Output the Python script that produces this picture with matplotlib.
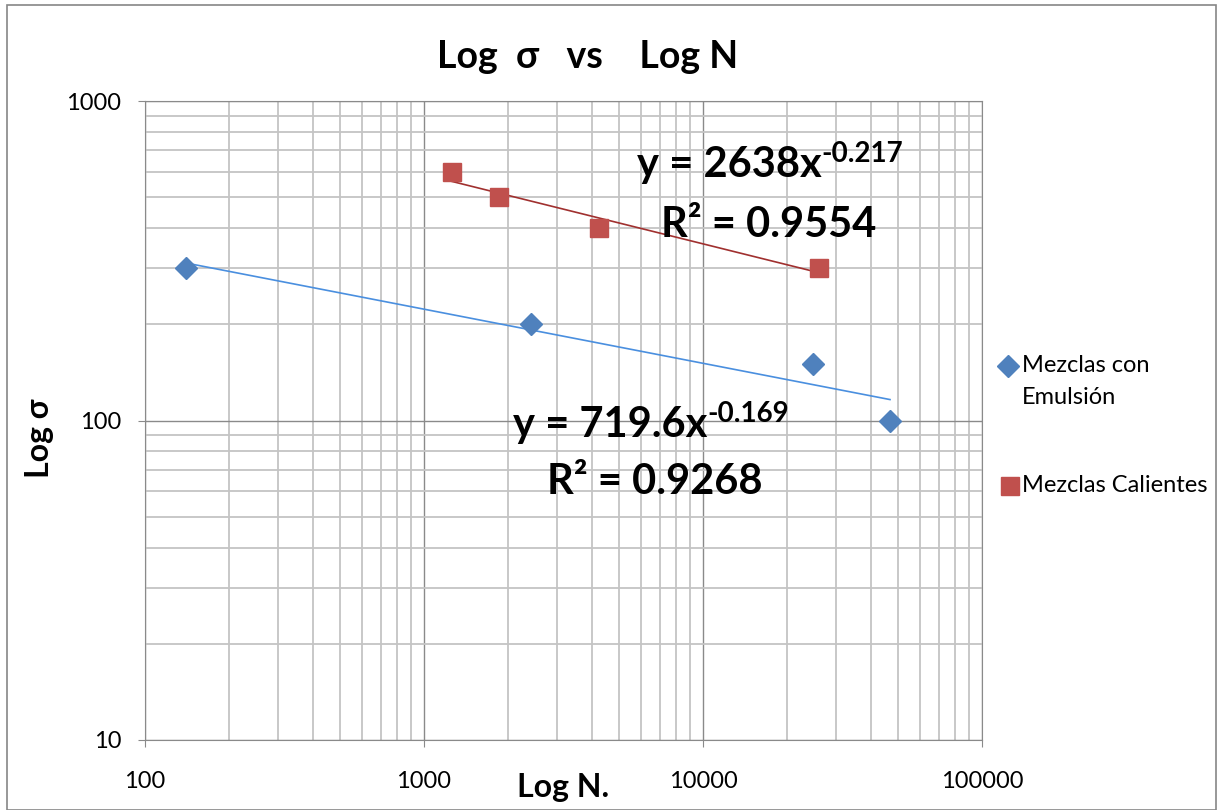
import numpy as np
import matplotlib
matplotlib.use("Agg")
import matplotlib.pyplot as plt
from matplotlib.lines import Line2D
from matplotlib.ticker import LogLocator, FixedLocator, NullFormatter

plt.rcParams['font.family'] = ['Lato', 'DejaVu Sans']

# Datos
n_emulsion = [140, 2420, 24800, 46800]
s_emulsion = [300, 200, 150, 100]
n_caliente = [1260, 1860, 4240, 26000]
s_caliente = [600, 500, 400, 300]

ec_emulsion = ["y = 719.6x", "-0.169", "R² = 0.9268"]
ec_caliente = ["y = 2638x", "-0.217", "R² = 0.9554"]

# Ajuste potencial (linea de tendencia)
def ajuste_potencial(x, y):
    b, a = np.polyfit(np.log10(x), np.log10(y), 1)
    xs = np.logspace(np.log10(min(x)), np.log10(max(x)), 50)
    return xs, 10**a * xs**b

def ecuacion(ax, x0, y0, partes, x1, y1):
    base = ax.text(x0, y0, partes[0], transform=ax.transAxes, fontsize=30,
                   fontweight='bold', ha='left', va='center')
    ax.annotate(partes[1], xy=(1.0, 0.78), xycoords=base, fontsize=20,
                fontweight='bold', ha='left', va='center')
    ax.text(x1, y1, partes[2], transform=ax.transAxes, fontsize=30,
            fontweight='bold', ha='center', va='center')

W, H = 1218, 810
fig = plt.figure(figsize=(W/100, H/100), dpi=100)
ax = fig.add_axes([145/W, 1 - 740/H, (982-145)/W, (740-101)/H])

# borde exterior del grafico
fig.patches.append(plt.Rectangle((7/W, 0), 1 - 9/W, 1 - 5/H, transform=fig.transFigure,
                                 fill=False, edgecolor='#868686', linewidth=1.2))

ax.set_xscale('log')
ax.set_yscale('log')
ax.set_xlim(100, 100000)
ax.set_ylim(10, 1000)

ax.xaxis.set_minor_locator(LogLocator(base=10, subs=np.arange(2, 10)))
ax.yaxis.set_minor_locator(LogLocator(base=10, subs=np.arange(2, 10)))
ax.xaxis.set_minor_formatter(NullFormatter())
ax.yaxis.set_minor_formatter(NullFormatter())
ax.xaxis.set_major_locator(FixedLocator([100, 1000, 10000, 100000]))
ax.yaxis.set_major_locator(FixedLocator([10, 100, 1000]))
ax.set_xticklabels(['100', '1000', '10000', '100000'])
ax.set_yticklabels(['10', '100', '1000'])

ax.grid(which='major', color='#8a8a8a', linewidth=1.0)
ax.grid(which='minor', color='#c4c4c4', linewidth=1.3)
ax.set_axisbelow(True)
for s in ax.spines.values():
    s.set_color('#8a8a8a')
ax.tick_params(which='major', length=5, color='#8a8a8a', labelsize=17)
ax.tick_params(which='minor', length=0)
ax.tick_params(axis='x', pad=17)
ax.tick_params(axis='y', pad=12)

# Lineas de tendencia
xs, ys = ajuste_potencial(n_emulsion, s_emulsion)
ax.plot(xs, ys, color='#4a8fdf', linewidth=1.2, zorder=2)
xs, ys = ajuste_potencial(n_caliente, s_caliente)
ax.plot(xs, ys, color='#a0302f', linewidth=1.2, zorder=2)

# Puntos
ax.plot(n_emulsion, s_emulsion, 'D', color='#4f81bd', markersize=11, linestyle='none', zorder=3)
ax.plot(n_caliente, s_caliente, 's', color='#c0504d', markersize=13, linestyle='none', zorder=3)

# Ecuaciones
ecuacion(ax, (637-145)/837, 1 - (165-101)/639, ec_caliente, (769-145)/837, 1 - (225-101)/639)
ecuacion(ax, (513-145)/837, 1 - (425-101)/639, ec_emulsion, (655-145)/837, 1 - (482-101)/639)

fig.text(588/W, 1 - 57/H, 'Log  σ   vs    Log N', fontsize=27, fontweight='bold',
         ha='center', va='center')
fig.text(563/W, 1 - 787/H, 'Log N.', fontsize=23, fontweight='bold', ha='center', va='center')
fig.text(40/W, 1 - 438/H, 'Log σ', fontsize=23, fontweight='bold', ha='center', va='center',
         rotation=90)

# Leyenda
fig.add_artist(Line2D([1008/W], [1 - 366/H], marker='D', color='#4f81bd', markersize=11,
                      linestyle='none', transform=fig.transFigure))
fig.add_artist(Line2D([1010/W], [1 - 486/H], marker='s', color='#c0504d', markersize=13,
                      linestyle='none', transform=fig.transFigure))
fig.text(1022/W, 1 - 366/H, 'Mezclas con', fontsize=17, ha='left', va='center')
fig.text(1022/W, 1 - 398/H, 'Emulsión', fontsize=17, ha='left', va='center')
fig.text(1022/W, 1 - 486/H, 'Mezclas Calientes', fontsize=17, ha='left', va='center')

fig.savefig('out.png', dpi=100)
